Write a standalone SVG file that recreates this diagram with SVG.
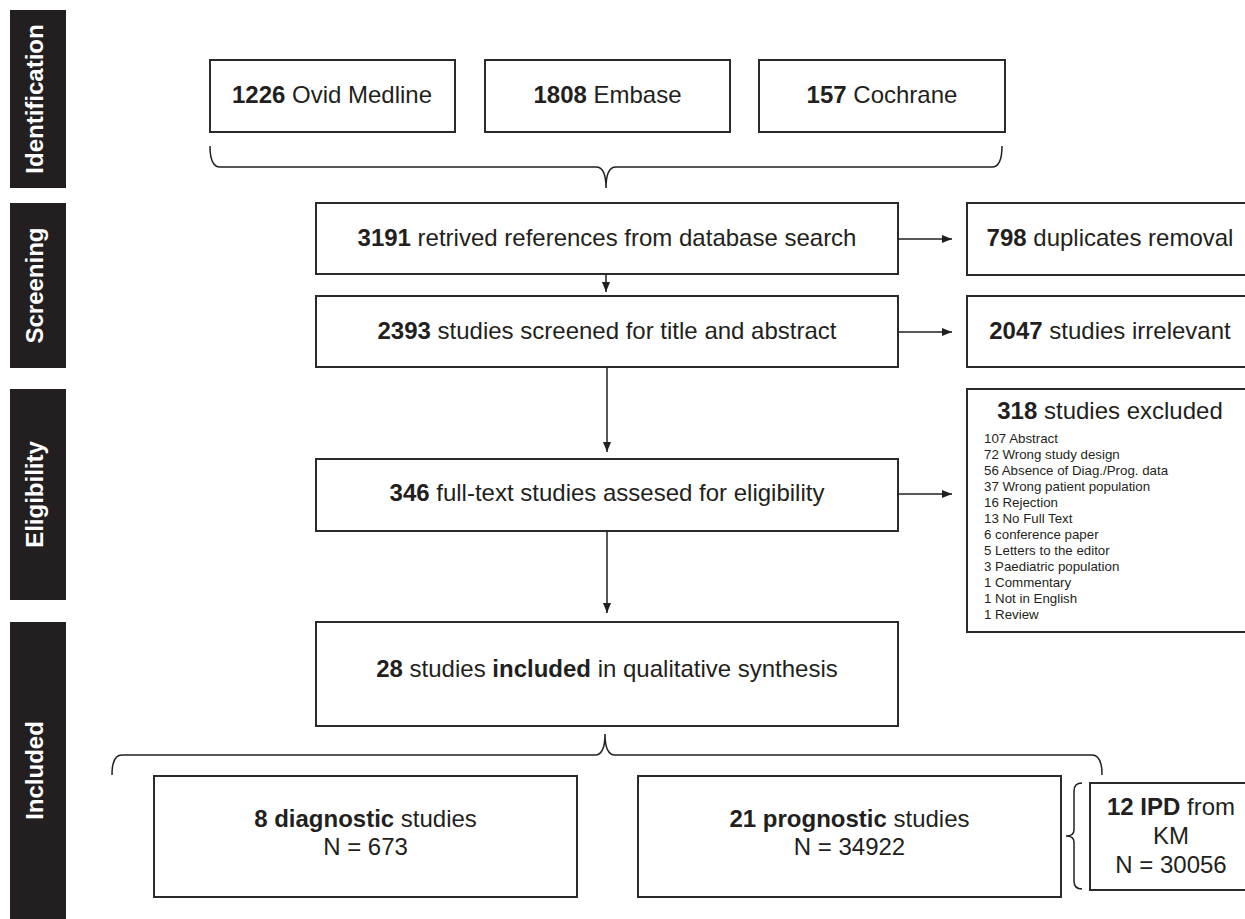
<svg xmlns="http://www.w3.org/2000/svg" width="1245" height="919" viewBox="0 0 1245 919">
<defs>
<marker id="ah" markerUnits="userSpaceOnUse" markerWidth="10" markerHeight="8" refX="10" refY="4" orient="auto">
<path d="M0,0 L10,4 L0,8 z" fill="#231f20"/>
</marker>
<style>
.box{fill:#fff;stroke:#2b2b2b;stroke-width:2}
.bar{fill:#231f20}
.side{font-family:"Liberation Sans",Arial,sans-serif;font-weight:bold;font-size:24px;fill:#fff;text-anchor:middle}
.t{font-family:"Liberation Sans",Arial,sans-serif;font-size:24px;fill:#231f20;text-anchor:middle}
.s{font-family:"Liberation Sans",Arial,sans-serif;font-size:13.3px;fill:#231f20}
.b{font-weight:bold}
.ln{fill:none;stroke:#231f20;stroke-width:1.5}
.ar{fill:none;stroke:#231f20;stroke-width:1.5;marker-end:url(#ah)}
</style>
</defs>
<rect width="1245" height="919" fill="#fff"/>

<g id="phase-identification"><rect class="bar" x="10" y="10" width="56" height="178"/><text class="side" transform="translate(43,99) rotate(-90)">Identification</text></g>
<g id="phase-screening"><rect class="bar" x="10" y="203" width="56" height="165"/><text class="side" transform="translate(43,285.5) rotate(-90)">Screening</text></g>
<g id="phase-eligibility"><rect class="bar" x="10" y="389" width="56" height="211"/><text class="side" transform="translate(43,494.5) rotate(-90)">Eligibility</text></g>
<g id="phase-included"><rect class="bar" x="10" y="622" width="56" height="297"/><text class="side" transform="translate(43,770.5) rotate(-90)">Included</text></g>

<g id="node-medline"><rect class="box" x="210" y="60" width="245" height="72"/><text class="t" x="332" y="103"><tspan class="b">1226</tspan> Ovid Medline</text></g>
<g id="node-embase"><rect class="box" x="485" y="60" width="245" height="72"/><text class="t" x="607.5" y="103"><tspan class="b">1808</tspan> Embase</text></g>
<g id="node-cochrane"><rect class="box" x="759" y="60" width="246" height="72"/><text class="t" x="882" y="103"><tspan class="b">157</tspan> Cochrane</text></g>

<g id="node-retrieved"><rect class="box" x="316" y="203" width="582" height="71"/><text class="t" x="607" y="246"><tspan class="b">3191</tspan> retrived references from database search</text></g>
<g id="node-duplicates"><rect class="box" x="967" y="203" width="290" height="72"/><text class="t" x="1110" y="246"><tspan class="b">798</tspan> duplicates removal</text></g>

<g id="node-screened"><rect class="box" x="316" y="296" width="582" height="71"/><text class="t" x="607" y="339"><tspan class="b">2393</tspan> studies screened for title and abstract</text></g>
<g id="node-irrelevant"><rect class="box" x="967" y="296" width="290" height="71"/><text class="t" x="1110" y="339"><tspan class="b">2047</tspan> studies irrelevant</text></g>

<g id="node-fulltext"><rect class="box" x="316" y="459" width="582" height="72"/><text class="t" x="607" y="501"><tspan class="b">346</tspan> full-text studies assesed for eligibility</text></g>

<g id="node-excluded"><rect class="box" x="967" y="389" width="290" height="243"/>
<text class="t" x="1110" y="419"><tspan class="b">318</tspan> studies excluded</text>
<text class="s" x="984" y="443.3">107 Abstract</text>
<text class="s" x="984" y="459.3">72 Wrong study design</text>
<text class="s" x="984" y="475.3">56 Absence of Diag./Prog. data</text>
<text class="s" x="984" y="491.3">37 Wrong patient population</text>
<text class="s" x="984" y="507.3">16 Rejection</text>
<text class="s" x="984" y="523.3">13 No Full Text</text>
<text class="s" x="984" y="539.3">6 conference paper</text>
<text class="s" x="984" y="555.3">5 Letters to the editor</text>
<text class="s" x="984" y="571.3">3 Paediatric population</text>
<text class="s" x="984" y="587.3">1 Commentary</text>
<text class="s" x="984" y="603.3">1 Not in English</text>
<text class="s" x="984" y="619.3">1 Review</text>
</g>

<g id="node-included"><rect class="box" x="316" y="622" width="582" height="104"/><text class="t" x="607" y="677"><tspan class="b">28</tspan> studies <tspan class="b">included</tspan> in qualitative synthesis</text></g>

<g id="node-diagnostic"><rect class="box" x="154" y="776" width="423" height="121"/><text class="t" x="365.5" y="827"><tspan class="b">8 diagnostic</tspan> studies</text><text class="t" x="365.5" y="855">N = 673</text></g>
<g id="node-prognostic"><rect class="box" x="638" y="776" width="423" height="121"/><text class="t" x="849.5" y="827"><tspan class="b">21 prognostic</tspan> studies</text><text class="t" x="849.5" y="855">N = 34922</text></g>
<g id="node-ipd"><rect class="box" x="1090" y="783" width="165" height="107"/><text class="t" x="1171" y="815"><tspan class="b">12 IPD</tspan> from</text><text class="t" x="1171" y="844">KM</text><text class="t" x="1171" y="873">N = 30056</text></g>

<g id="connectors">
<path class="ln" d="M210,146 Q210,167 220,167 L596,167 Q606,167 606,188 Q606,167 616,167 L992,167 Q1002,167 1002,146"/>
<line class="ar" x1="898" y1="239" x2="952" y2="239"/>
<line class="ar" x1="606" y1="274" x2="606" y2="292"/>
<line class="ar" x1="898" y1="332" x2="952" y2="332"/>
<line class="ar" x1="607" y1="367" x2="607" y2="452"/>
<line class="ar" x1="898" y1="494" x2="952" y2="494"/>
<line class="ar" x1="607" y1="531" x2="607" y2="613"/>
<path class="ln" d="M112,775 Q112,755 122,755 L595,755 Q605,755 605,734 Q605,755 615,755 L1092,755 Q1102,755 1102,775"/>
<path class="ln" d="M1082,783 Q1074,783 1074,791 L1074,830 Q1074,836 1066,836 Q1074,836 1074,842 L1074,881 Q1074,889 1082,889"/>
</g>
</svg>
